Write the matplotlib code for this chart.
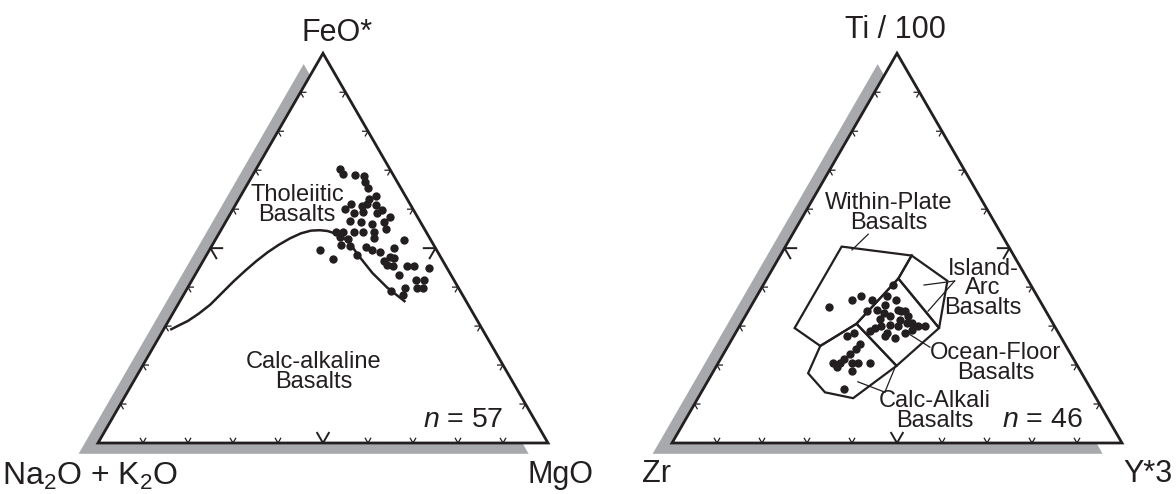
import numpy as np
import matplotlib.pyplot as plt
from matplotlib.patches import Polygon

plt.rcParams['font.family'] = ['Liberation Sans', 'DejaVu Sans']
plt.rcParams['mathtext.fontset'] = 'custom'
plt.rcParams['mathtext.rm'] = 'Liberation Sans'
plt.rcParams['mathtext.it'] = 'Liberation Sans:italic'

INK = '#231f20'
SHADE = '#a7a9ac'

# AFM diagram, FeO* on top, MgO on the right (Na2O+K2O is the rest)
afm_feo = [70.3, 69.0, 68.8, 68.4, 66.9, 65.4, 63.5, 62.7, 61.4, 61.4,
           60.8, 61.1, 59.7, 60.0, 59.3, 59.1, 58.9, 58.0, 56.9, 56.7,
           56.3, 56.7, 54.2, 54.2, 54.2, 54.2, 54.2, 55.0, 52.9, 52.3,
           52.5, 52.1, 50.8, 50.6, 50.4, 49.5, 50.1, 49.5, 48.3, 48.9,
           47.6, 47.4, 46.6, 47.3, 45.7, 45.3, 45.5, 45.5, 44.9, 43.0,
           41.7, 41.7, 39.9, 39.8, 39.9, 39.1, 37.9]
afm_mgo = [18.6, 20.0, 22.7, 25.0, 25.8, 27.3, 30.0, 28.9, 29.0, 25.5,
           28.3, 31.2, 33.2, 25.0, 29.3, 27.4, 32.6, 35.8, 27.5, 30.1,
           32.8, 35.1, 25.8, 27.4, 29.7, 31.8, 34.3, 36.4, 27.4, 29.4,
           35.1, 42.0, 28.5, 30.7, 34.3, 36.2, 40.7, 24.6, 33.4, 38.3,
           41.0, 42.1, 40.2, 28.5, 41.4, 42.9, 45.9, 47.4, 51.1, 45.5,
           49.8, 51.5, 51.0, 52.4, 48.3, 45.6, 48.9]

# tholeiitic / calc-alkaline boundary
bound_feo = [29.2, 30.2, 31.3, 33.2, 35.5, 38.5, 41.5, 44.2, 46.6, 48.9, 50.8,
             52.5, 53.8, 54.5, 54.6, 54.4, 53.8, 52.9, 51.7, 47.8, 43.6, 39.9, 36.4]
bound_mgo = [1.7, 2.9, 4.3, 5.8, 7.2, 8.3, 9.4, 10.6, 11.8, 13.2, 14.7,
             16.4, 18.2, 20.1, 22.0, 23.8, 25.7, 27.7, 29.8, 34.2, 39.2, 44.3, 49.9]

# Ti-Zr-Y diagram, Ti/100 on top, Y*3 on the right (Zr is the rest)
tzy_ti = [34.8, 36.7, 37.6, 36.7, 33.8, 40.5, 37.6, 36.7, 35.5, 33.3,
          34.2, 33.8, 32.5, 32.5, 31.8, 31.6, 30.8, 29.9, 29.9, 29.9,
          30.4, 29.9, 29.5, 28.7, 28.2, 28.2, 29.1, 27.0, 27.4, 28.1,
          27.4, 25.3, 24.0, 22.8, 21.5, 20.6, 19.4, 20.6, 20.6, 20.6,
          18.5, 20.6, 13.9, 33.8, 30.8, 34.2]
tzy_y = [17.6, 21.7, 23.2, 26.2, 26.4, 28.9, 28.9, 31.4, 29.5, 30.5,
         33.2, 34.9, 36.3, 32.2, 30.3, 34.9, 37.9, 39.7, 41.2, 35.3,
         33.2, 31.6, 30.3, 29.7, 33.6, 37.7, 38.7, 36.1, 33.6, 26.3,
         25.1, 29.2, 29.0, 28.2, 27.4, 25.5, 26.9, 27.0, 29.6, 31.1,
         30.8, 33.7, 31.3, 34.1, 36.8, 28.4]

# discrimination fields (Ti, Y*3)
within_plate_ti = [29.5, 50.4, 48.1, 42.2, 30.6, 24.9]
within_plate_y = [12.5, 12.5, 29.2, 29.2, 25.7, 20.5]
island_arc_ti = [42.2, 48.1, 41.6, 29.5]
island_arc_y = [29.2, 29.2, 40.4, 44.6]
ocean_floor_ti = [30.6, 42.2, 29.5, 19.8]
ocean_floor_y = [25.7, 29.2, 44.6, 40.0]
calc_alkali_ti = [24.9, 30.6, 19.8, 11.5, 13.0, 17.9]
calc_alkali_y = [20.5, 25.7, 40.0, 34.5, 27.5, 21.3]

S3 = np.sqrt(3) / 2


def tern(top, right):
    top = np.asarray(top) / 100.0
    right = np.asarray(right) / 100.0
    return right + top / 2, top * S3


def frame(ax):
    corners = np.array([[0, 0], [1, 0], [0.5, S3]])
    ax.add_patch(Polygon(corners + [-0.043, -0.024], closed=True,
                         facecolor=SHADE, edgecolor='none', zorder=1))
    ax.add_patch(Polygon(corners, closed=True, facecolor='white',
                         edgecolor='none', zorder=2))
    ax.add_patch(Polygon(corners, closed=True, fill=False,
                         edgecolor=INK, lw=2.0, joinstyle='miter', zorder=6))
    for k in range(1, 10):
        t = k / 10
        ln = 0.026 if k == 5 else 0.012
        lw = 1.4 if k == 5 else 0.9
        sides = [((t, 0), (0.5, S3), (-0.5, S3)),
                 ((t / 2, t * S3), (1, 0), (0.5, -S3)),
                 ((1 - t / 2, t * S3), (-1, 0), (-0.5, -S3))]
        for p, d1, d2 in sides:
            ax.plot([p[0] + ln * d1[0], p[0], p[0] + ln * d2[0]],
                    [p[1] + ln * d1[1], p[1], p[1] + ln * d2[1]],
                    color=INK, lw=lw, zorder=7)


fig = plt.figure(figsize=(11.76, 4.94), dpi=100)

# ---- AFM ----
ax1 = fig.add_axes([0, 0, 590 / 1176, 1])
ax1.set_xlim(-98 / 450, (590 - 98) / 450)
ax1.set_ylim((443 - 494) / 450, 443 / 450)
ax1.axis('off')
frame(ax1)

bx, by = tern(bound_feo, bound_mgo)
ax1.plot(bx, by, color=INK, lw=1.8, solid_joinstyle='round', zorder=4)
px, py = tern(afm_feo, afm_mgo)
ax1.plot(px, py, 'o', color=INK, ms=6.0, mec='none', zorder=5)

lab = dict(fontsize=17, color=INK, ha='center', va='center', linespacing=0.85, zorder=3)
ax1.text(0.442, 0.529, 'Tholeiitic\nBasalts', **lab)
ax1.text(0.48, 0.158, 'Calc-alkaline\nBasalts', **lab)
ax1.text(0.90, 0.036, '$n$ = 57', fontsize=20.5, color=INK, ha='right', va='baseline', zorder=3)
ax1.text(0.531, 0.893, 'FeO*', fontsize=22, color=INK, ha='center', va='baseline')
ax1.text(-0.213, -0.093, 'Na$_2$O + K$_2$O', fontsize=23, color=INK, ha='left', va='baseline')
ax1.text(1.027, -0.089, 'MgO', fontsize=22, color=INK, ha='center', va='baseline')

# ---- Ti-Zr-Y ----
ax2 = fig.add_axes([590 / 1176, 0, 586 / 1176, 1])
ax2.set_xlim((590 - 672) / 450, (1176 - 672) / 450)
ax2.set_ylim((443 - 494) / 450, 443 / 450)
ax2.axis('off')
frame(ax2)

for fti, fy in [(within_plate_ti, within_plate_y), (island_arc_ti, island_arc_y),
                (ocean_floor_ti, ocean_floor_y), (calc_alkali_ti, calc_alkali_y)]:
    fx, fyy = tern(fti, fy)
    ax2.add_patch(Polygon(np.column_stack([fx, fyy]), closed=True, fill=False,
                          edgecolor=INK, lw=1.6, joinstyle='miter', zorder=4))

qx, qy = tern(tzy_ti, tzy_y)
ax2.plot(qx, qy, 'o', color=INK, ms=6.0, mec='none', zorder=5)

ax2.text(0.482, 0.511, 'Within-Plate\nBasalts', **lab)
ax2.text(0.691, 0.344, 'Island-\nArc\nBasalts', **lab)
ax2.text(0.72, 0.178, 'Ocean-Floor\nBasalts', **lab)
ax2.text(0.584, 0.071, 'Calc-Alkali\nBasalts', **lab)
ax2.text(0.914, 0.036, '$n$ = 46', fontsize=20.5, color=INK, ha='right', va='baseline', zorder=3)

leaders = [((0.436, 0.464), (0.40, 0.429)),
           ((0.628, 0.36), (0.56, 0.351)),
           ((0.628, 0.36), (0.569, 0.293)),
           ((0.573, 0.213), (0.527, 0.242)),
           ((0.473, 0.113), (0.413, 0.136)),
           ((0.473, 0.113), (0.496, 0.169))]
for a, b in leaders:
    ax2.plot([a[0], b[0]], [a[1], b[1]], color=INK, lw=0.9, zorder=4)

ax2.text(0.496, 0.90, 'Ti / 100', fontsize=22, color=INK, ha='center', va='baseline')
ax2.text(-0.067, -0.087, 'Zr', fontsize=22, color=INK, ha='left', va='baseline')
ax2.text(1.002, -0.087, 'Y*3', fontsize=22, color=INK, ha='left', va='baseline')

fig.savefig('out.png', dpi=100)
